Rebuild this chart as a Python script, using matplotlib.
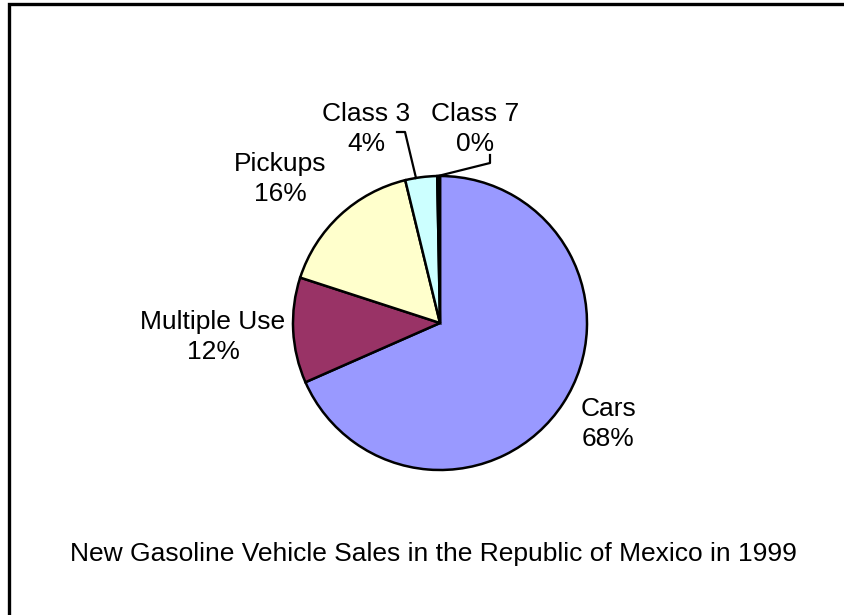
import matplotlib
matplotlib.use("Agg")
import matplotlib.pyplot as plt

# data
categories = ["Cars", "Multiple Use", "Pickups", "Class 3", "Class 7"]
shares = [68.4, 11.6, 16.2, 3.5, 0.3]
pct_labels = ["68%", "12%", "16%", "4%", "0%"]
colors = ["#9999FF", "#993366", "#FFFFCC", "#CCFFFF", "#000000"]
title = "New Gasoline Vehicle Sales in the Republic of Mexico in 1999"

W, H = 844, 615
plt.rcParams["font.family"] = ["Liberation Sans", "DejaVu Sans"]

fig = plt.figure(figsize=(W / 100, H / 100), dpi=100)
ax = fig.add_axes([0, 0, 1, 1])

cx, cy, r = 440, H - 323, 147
ax.pie(shares, colors=colors, startangle=90, counterclock=False,
       center=(cx, cy), radius=r,
       wedgeprops=dict(edgecolor="black", linewidth=1.8))
ax.set_xlim(0, W)
ax.set_ylim(0, H)
ax.set_aspect("equal")
ax.axis("off")

# label positions (pixel coords, top-left origin)
label_pos = [(608, 424), (213, 337), (280, 179), (366, 129), (475, 129)]
for name, pct, (x, y) in zip(categories, pct_labels, label_pos):
    ax.text(x, H - y, name + "\n" + pct, ha="center", va="center",
            fontsize=19, linespacing=1.3)

# leader lines for the small slices
ax.plot([416, 405, 397], [H - 178, H - 132, H - 132], color="black", lw=1.6)
ax.plot([438, 490, 490], [H - 176, H - 163, H - 155], color="black", lw=1.6)

ax.text(433, H - 554, title, ha="center", va="center", fontsize=19)

# chart frame (cut by the image edge on right/bottom)
ax.plot([9, 9, W], [0, H - 4, H - 4], color="black", lw=2.4,
        solid_joinstyle="miter")

fig.savefig("out.png", dpi=100)
